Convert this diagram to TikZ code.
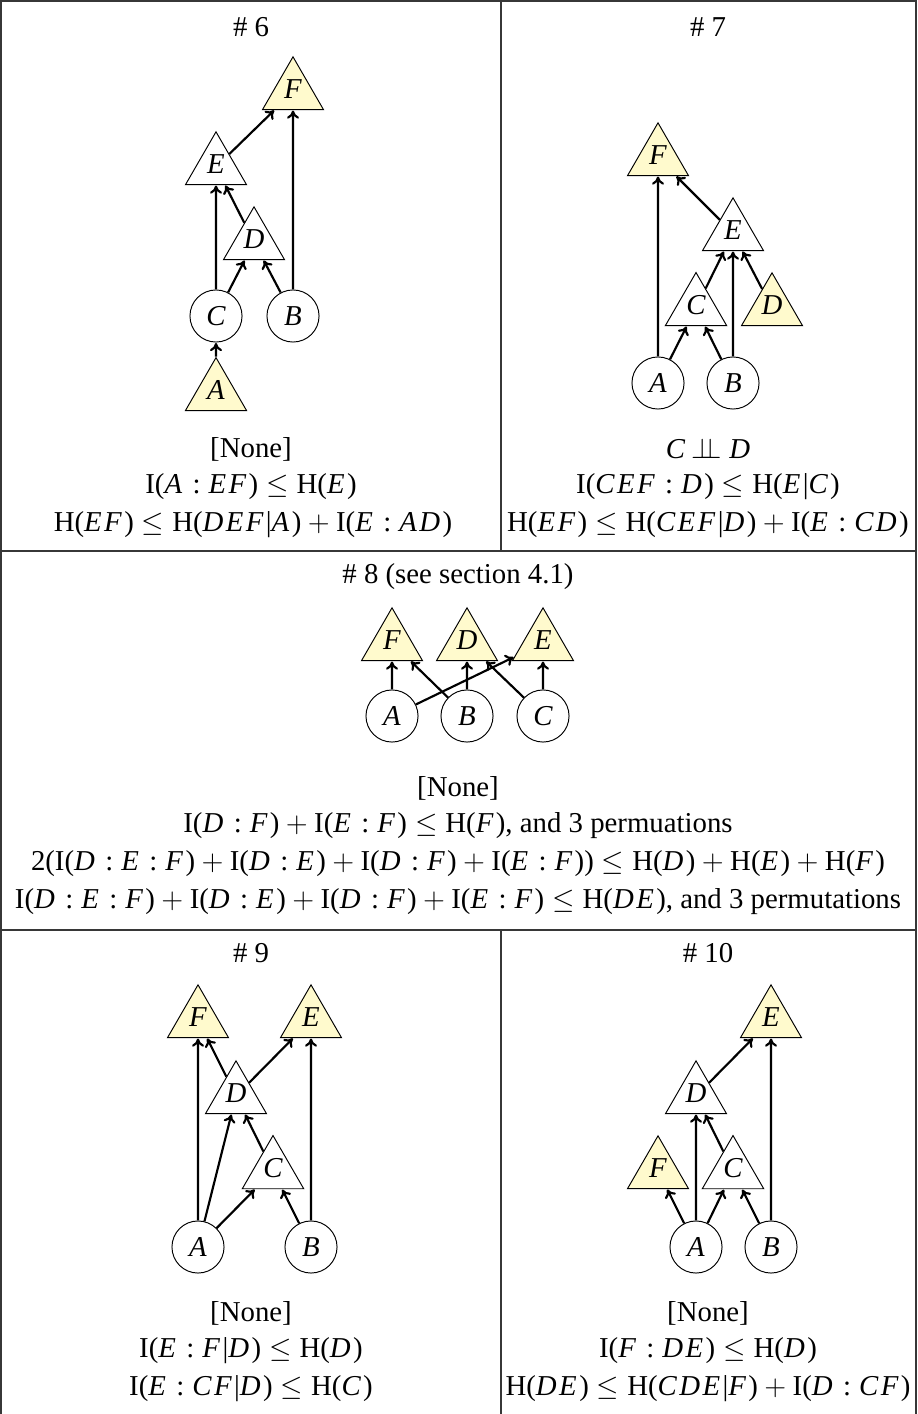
\documentclass[tikz,border=0pt]{standalone}
\usepackage{fontspec}
\setmainfont{Liberation Serif}
\usetikzlibrary{shapes.geometric,arrows.meta}
\definecolor{ylw}{RGB}{255,250,205}
\definecolor{rulec}{RGB}{55,55,55}
\makeatletter
\def\V@x#1{\ifx#1\relax\else#1\kern0.085em\expandafter\V@x\fi}
\newcommand\V[1]{\textit{\V@x#1\relax}}
\makeatother
\newcommand\cl{\hspace{0.278em}:\hspace{0.278em}}
\newcommand\LE{\hspace{0.278em}$\leq$\hspace{0.278em}}
\newcommand\PL{\hspace{0.222em}$+$\hspace{0.222em}}
\tikzset{
  tri/.style={regular polygon, regular polygon sides=3, minimum size=29.3pt, inner sep=0pt, draw, line width=0.4pt, text depth=2.5pt, font=\fontsize{12}{14}\selectfont\itshape},
  wtri/.style={tri, fill=white},
  ytri/.style={tri, fill=ylw},
  circ/.style={circle, draw, line width=0.4pt, minimum size=21.7pt, inner sep=0pt, font=\fontsize{12}{14}\selectfont\itshape},
  arr/.style={-{To[length=3.4pt,width=5pt]}, line width=0.9pt, shorten >=0.2pt},
  txt/.style={inner sep=0pt, font=\fontsize{12}{14.5}\selectfont},
  rule/.style={draw=rulec, line width=0.5pt}
}
\begin{document}
\begin{tikzpicture}[x=0.41667pt, y=-0.41667pt]
\useasboundingbox (0,0) rectangle (917,1414);
% frame
\draw[rule] (1,1414) -- (1,1) -- (916,1) -- (916,1414);
\draw[rule] (1,551) -- (916,551);
\draw[rule] (1,930) -- (916,930);
\draw[rule] (501,1) -- (501,551);
\draw[rule] (501,930) -- (501,1414);

% ---------- #6 ----------
\node[txt] (h6) at (251,27) {\# 6};
\node[ytri] (f6) at (293,92) {F};
\node[wtri] (e6) at (216,167) {E};
\node[wtri] (d6) at (254,242) {D};
\node[circ] (c6) at (216,316) {C};
\node[circ] (b6) at (293,316) {B};
\node[ytri] (a6) at (216,393) {A};
\draw[arr] (c6) -- (e6);
\draw[arr] (d6) -- (e6);
\draw[arr] (e6) -- (f6);
\draw[arr] (b6) -- (f6);
\draw[arr] (c6) -- (d6);
\draw[arr] (b6) -- (d6);
\draw[arr] (a6) -- (c6);
\node[txt] (s6a) at (251,449) {[None]};
\node[txt] (s6b) at (251,487) {I(\V{A}\cl\V{EF})\LE H(\V{E})};
\node[txt] (s6c) at (253,525) {H(\V{EF})\LE H(\V{DEF}|\V{A})\PL I(\V{E}\cl\V{AD})};

% ---------- #7 ----------
\node[txt] (h7) at (708,27) {\# 7};
\node[ytri] (f7) at (658,158) {F};
\node[wtri] (e7) at (733,233) {E};
\node[wtri] (c7) at (696,308) {C};
\node[ytri] (d7) at (772,308) {D};
\node[circ] (a7) at (658,383) {A};
\node[circ] (b7) at (733,383) {B};
\draw[arr] (a7) -- (f7);
\draw[arr] (e7) -- (f7);
\draw[arr] (c7) -- (e7);
\draw[arr] (b7) -- (e7);
\draw[arr] (d7) -- (e7);
\draw[arr] (a7) -- (c7);
\draw[arr] (b7) -- (c7);
\node[txt] (s7a) at (708,449) {\textit{C}\hspace{0.2em}$\perp\!\!\!\perp$\hspace{0.278em}\textit{D}};
\node[txt] (s7b) at (708,487) {I(\V{CEF}\cl\V{D})\LE H(\V{E}|\V{C})};
\node[txt] (s7c) at (708,525) {H(\V{EF})\LE H(\V{CEF}|\V{D})\PL I(\V{E}\cl\V{CD})};

% ---------- #8 ----------
\node[txt] (h8) at (458,577) {\# 8 (see section 4.1)};
\node[ytri] (f8) at (392,643) {F};
\node[ytri] (d8) at (467,643) {D};
\node[ytri] (e8) at (543,643) {E};
\node[circ] (a8) at (392,716) {A};
\node[circ] (b8) at (467,716) {B};
\node[circ] (c8) at (543,716) {C};
\draw[arr] (a8) -- (f8);
\draw[arr] (b8) -- (f8);
\draw[arr] (a8) -- (e8);
\draw[arr] (b8) -- (d8);
\draw[arr] (c8) -- (d8);
\draw[arr] (c8) -- (e8);
\node[txt] (s8a) at (458,788) {[None]};
\node[txt] (s8b) at (458,826) {I(\V{D}\cl\V{F})\PL I(\V{E}\cl\V{F})\LE H(\V{F}), and 3 permuations};
\node[txt] (s8c) at (458,864) {2(I(\V{D}\cl\V{E}\cl\V{F})\PL I(\V{D}\cl\V{E})\PL I(\V{D}\cl\V{F})\PL I(\V{E}\cl\V{F}))\LE H(\V{D})\PL H(\V{E})\PL H(\V{F})};
\node[txt] (s8d) at (458,902) {I(\V{D}\cl\V{E}\cl\V{F})\PL I(\V{D}\cl\V{E})\PL I(\V{D}\cl\V{F})\PL I(\V{E}\cl\V{F})\LE H(\V{DE}), and 3 permutations};

% ---------- #9 ----------
\node[txt] (h9) at (251,953) {\# 9};
\node[ytri] (f9) at (198,1020) {F};
\node[ytri] (e9) at (311,1020) {E};
\node[wtri] (d9) at (236,1096) {D};
\node[wtri] (c9) at (273,1171) {C};
\node[circ] (a9) at (198,1247) {A};
\node[circ] (b9) at (311,1247) {B};
\draw[arr] (a9) -- (f9);
\draw[arr] (d9) -- (f9);
\draw[arr] (d9) -- (e9);
\draw[arr] (b9) -- (e9);
\draw[arr] (a9) -- (d9);
\draw[arr] (c9) -- (d9);
\draw[arr] (a9) -- (c9);
\draw[arr] (b9) -- (c9);
\node[txt] (s9a) at (251,1313) {[None]};
\node[txt] (s9b) at (251,1351) {I(\V{E}\cl\V{F}|\V{D})\LE H(\V{D})};
\node[txt] (s9c) at (251,1389) {I(\V{E}\cl\V{CF}|\V{D})\LE H(\V{C})};

% ---------- #10 ----------
\node[txt] (h10) at (708,953) {\# 10};
\node[ytri] (e10) at (771,1020) {E};
\node[wtri] (d10) at (696,1096) {D};
\node[ytri] (f10) at (658,1171) {F};
\node[wtri] (c10) at (733,1171) {C};
\node[circ] (a10) at (696,1247) {A};
\node[circ] (b10) at (771,1247) {B};
\draw[arr] (d10) -- (e10);
\draw[arr] (b10) -- (e10);
\draw[arr] (a10) -- (d10);
\draw[arr] (c10) -- (d10);
\draw[arr] (a10) -- (f10);
\draw[arr] (a10) -- (c10);
\draw[arr] (b10) -- (c10);
\node[txt] (s10a) at (708,1313) {[None]};
\node[txt] (s10b) at (708,1351) {I(\V{F}\cl\V{DE})\LE H(\V{D})};
\node[txt] (s10c) at (708,1389) {H(\V{DE})\LE H(\V{CDE}|\V{F})\PL I(\V{D}\cl\V{CF})};
\end{tikzpicture}
\end{document}
